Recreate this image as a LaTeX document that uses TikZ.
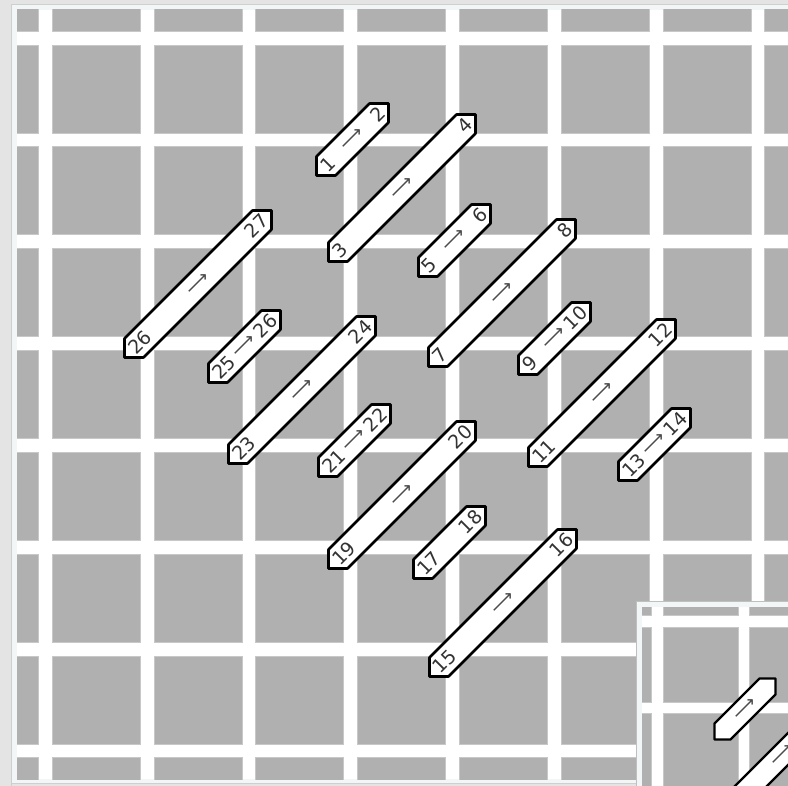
\documentclass[tikz,border=0pt]{standalone}
\usepackage{fontspec}
\setmainfont{DejaVu Sans}
\definecolor{framegray}{HTML}{E4E4E4}
\definecolor{frameedge}{HTML}{CFCFCF}
\definecolor{framelight}{HTML}{F3F6F6}
\definecolor{cellgray}{HTML}{B0B0B0}
\def\armlen{19}
\def\lw{2.6pt}
\def\tagoff{8}
\newcommand\stitch[7]{%
  \draw[stitchbox, line width=\lw] (#2+1.5,#3-1.5) -- ++(0,-\armlen)
     -- (#2+#4-1.5-\armlen,#3-#4+1.5) -- (#2+#4-1.5,#3-#4+1.5) -- ++(0,\armlen)
     -- (#2+1.5+\armlen,#3-1.5) -- cycle;
  \node[numlabel, anchor=west] (#1s) at (#2+\tagoff,#3-\tagoff) {#5};
  \node[numlabel, anchor=east] (#1e) at (#2+#4-\tagoff,#3-#4+\tagoff) {#6};
  \node[arrowlabel] (#1m) at (#2+#4/2,#3-#4/2) {#7};
}
\begin{document}
\begin{tikzpicture}[x=1pt,y=-1pt,
  cellfill/.style={fill=cellgray, draw=cellgray!70!white, line width=0.6pt},
  stitchbox/.style={fill=white, draw=black, line join=round},
  numlabel/.style={font=\fontsize{19}{19}\selectfont, inner sep=0pt, rotate=45, text=black!80},
  arrowlabel/.style={font=\fontsize{18}{18}\selectfont, inner sep=0pt, rotate=45, text=black!70}
]
\useasboundingbox (0,0) rectangle (788,786);
% window frame
\fill[framegray] (0,0) rectangle (788,786);
\draw[frameedge, line width=1pt] (11.5,786) -- (11.5,4.5) -- (788,4.5);
\draw[frameedge, line width=1pt] (11.5,783.5) -- (788,783.5);
\fill[framelight] (12,5) rectangle (788,783);
% main grid
\begin{scope}
  \clip (17,10) rectangle (788,779);
  \fill[white] (17,10) rectangle (788,779);
  \foreach \i in {0,...,8}{
    \foreach \j in {0,...,8}{
      \fill[cellfill] ({-49.8+101.8*\i},{-56.8+101.8*\j}) rectangle ++(88,88);
    }
  }
\end{scope}
% stitches
\stitch{a}{315}{177}{75}{1}{2}{⟶}
\stitch{b}{327}{263}{150}{3}{4}{⟶}
\stitch{c}{417}{278}{75}{5}{6}{⟶}
\stitch{d}{427}{368}{150}{7}{8}{⟶}
\stitch{e}{517}{376}{75}{9}{10}{⟶}
\stitch{f}{527}{468}{150}{11}{12}{⟶}
\stitch{g}{617}{482}{75}{13}{14}{⟶}
\stitch{h}{428}{678}{150}{15}{16}{⟶}
\stitch{i}{412}{580}{75}{17}{18}{}
\stitch{j}{327}{570}{150}{19}{20}{⟶}
\stitch{k}{317}{478}{75}{21}{22}{⟶}
\stitch{l}{227}{465}{150}{23}{24}{⟶}
\stitch{m}{207}{384}{75}{25}{26}{⟶}
\stitch{n}{123}{359}{150}{26}{27}{⟶}
% inset
\draw[black!25, line width=1.2pt] (636.4,786) -- (636.4,601.4) -- (788,601.4);
\begin{scope}
  \clip (637,602) rectangle (788,786);
  \fill[framelight] (637,602) rectangle (788,786);
  \begin{scope}
    \clip (642,607) rectangle (788,786);
    \fill[white] (642,607) rectangle (788,786);
    \foreach \i in {0,...,3}{
      \foreach \j in {0,...,3}{
        \fill[cellfill] ({576.5+86.5*\i},{540.5+86.5*\j}) rectangle ++(75,75);
      }
    }
    \def\armlen{16}
    \def\lw{2.4pt}
    \stitch{p}{713}{741}{64}{}{}{⟶}
    \stitch{q}{718}{819}{128}{}{}{⟶}
  \end{scope}
\end{scope}
\end{tikzpicture}
\end{document}
